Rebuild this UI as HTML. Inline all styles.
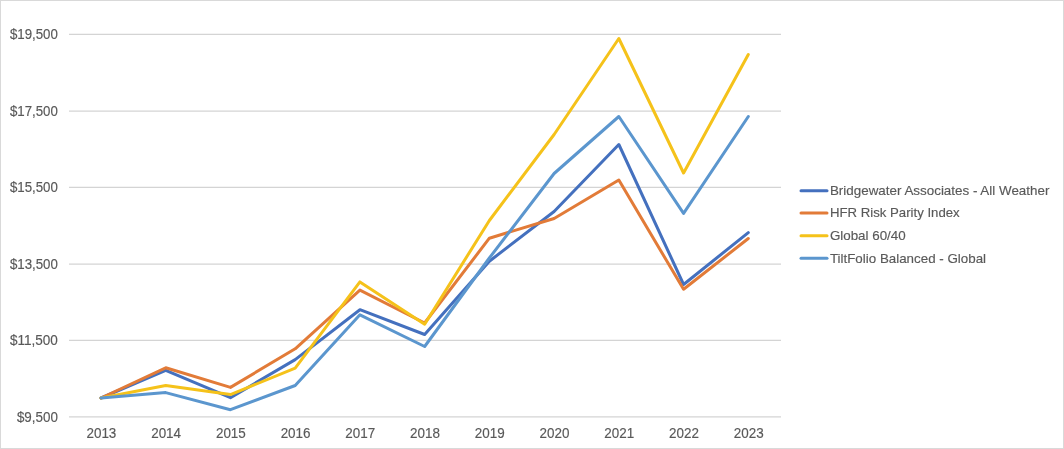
<!DOCTYPE html>
<html><head><meta charset="utf-8"><style>
html,body{margin:0;padding:0;background:#fff;}
body{width:1064px;height:449px;overflow:hidden;position:relative;}
svg{position:absolute;left:0;top:0;will-change:transform;}
text{font-family:"Liberation Sans",sans-serif;font-size:14px;fill:#595959;stroke:#595959;stroke-width:0.15px;}
</style></head><body>
<svg width="1064" height="449" viewBox="0 0 1064 449">
<rect x="0.5" y="0.5" width="1063" height="448" fill="#fff" stroke="#d9d9d9" stroke-width="1"/>

<line x1="69.0" y1="34.30" x2="781.0" y2="34.30" stroke="#d4d4d4" stroke-width="1.25"/>
<line x1="69.0" y1="111.00" x2="781.0" y2="111.00" stroke="#d4d4d4" stroke-width="1.25"/>
<line x1="69.0" y1="187.40" x2="781.0" y2="187.40" stroke="#d4d4d4" stroke-width="1.25"/>
<line x1="69.0" y1="264.20" x2="781.0" y2="264.20" stroke="#d4d4d4" stroke-width="1.25"/>
<line x1="69.0" y1="340.30" x2="781.0" y2="340.30" stroke="#d4d4d4" stroke-width="1.25"/>
<line x1="69.0" y1="416.90" x2="781.0" y2="416.90" stroke="#d4d4d4" stroke-width="1.25"/>
<text x="57.9" y="39.20" text-anchor="end" textLength="48.0" lengthAdjust="spacingAndGlyphs">$19,500</text>
<text x="57.9" y="115.90" text-anchor="end" textLength="48.0" lengthAdjust="spacingAndGlyphs">$17,500</text>
<text x="57.9" y="192.30" text-anchor="end" textLength="48.0" lengthAdjust="spacingAndGlyphs">$15,500</text>
<text x="57.9" y="269.10" text-anchor="end" textLength="48.0" lengthAdjust="spacingAndGlyphs">$13,500</text>
<text x="57.9" y="345.20" text-anchor="end" textLength="48.0" lengthAdjust="spacingAndGlyphs">$11,500</text>
<text x="57.9" y="421.80" text-anchor="end" textLength="41.0" lengthAdjust="spacingAndGlyphs">$9,500</text>
<text x="101.40" y="437.9" text-anchor="middle" textLength="29.9" lengthAdjust="spacingAndGlyphs">2013</text>
<text x="166.13" y="437.9" text-anchor="middle" textLength="29.9" lengthAdjust="spacingAndGlyphs">2014</text>
<text x="230.86" y="437.9" text-anchor="middle" textLength="29.9" lengthAdjust="spacingAndGlyphs">2015</text>
<text x="295.59" y="437.9" text-anchor="middle" textLength="29.9" lengthAdjust="spacingAndGlyphs">2016</text>
<text x="360.32" y="437.9" text-anchor="middle" textLength="29.9" lengthAdjust="spacingAndGlyphs">2017</text>
<text x="425.05" y="437.9" text-anchor="middle" textLength="29.9" lengthAdjust="spacingAndGlyphs">2018</text>
<text x="489.78" y="437.9" text-anchor="middle" textLength="29.9" lengthAdjust="spacingAndGlyphs">2019</text>
<text x="554.51" y="437.9" text-anchor="middle" textLength="29.9" lengthAdjust="spacingAndGlyphs">2020</text>
<text x="619.24" y="437.9" text-anchor="middle" textLength="29.9" lengthAdjust="spacingAndGlyphs">2021</text>
<text x="683.97" y="437.9" text-anchor="middle" textLength="29.9" lengthAdjust="spacingAndGlyphs">2022</text>
<text x="748.70" y="437.9" text-anchor="middle" textLength="29.9" lengthAdjust="spacingAndGlyphs">2023</text>
<polyline points="101.00,398.00 165.73,370.40 230.46,397.70 295.19,359.60 359.92,309.70 424.65,334.50 489.38,261.20 554.11,211.50 618.84,144.50 683.57,284.50 748.30,232.60" fill="none" stroke="#4470BE" stroke-width="3" stroke-linejoin="round" stroke-linecap="round"/>
<polyline points="101.00,398.00 165.73,367.80 230.46,387.40 295.19,348.80 359.92,290.10 424.65,323.00 489.38,238.20 554.11,218.50 618.84,180.00 683.57,289.30 748.30,238.50" fill="none" stroke="#E27B38" stroke-width="3" stroke-linejoin="round" stroke-linecap="round"/>
<polyline points="101.00,398.00 165.73,385.50 230.46,394.60 295.19,368.20 359.92,281.90 424.65,324.20 489.38,220.50 554.11,134.50 618.84,38.50 683.57,173.00 748.30,54.50" fill="none" stroke="#F5C21A" stroke-width="3" stroke-linejoin="round" stroke-linecap="round"/>
<polyline points="101.00,398.00 165.73,392.60 230.46,409.70 295.19,385.50 359.92,314.80 424.65,346.50 489.38,258.00 554.11,173.50 618.84,116.50 683.57,213.40 748.30,116.50" fill="none" stroke="#5B96CE" stroke-width="3" stroke-linejoin="round" stroke-linecap="round"/>
<line x1="801" y1="190.8" x2="827" y2="190.8" stroke="#4470BE" stroke-width="3" stroke-linecap="round"/>
<text x="829.9" y="195.10" style="font-size:13.5px" textLength="219.5" lengthAdjust="spacingAndGlyphs">Bridgewater Associates - All Weather</text>
<line x1="801" y1="213.1" x2="827" y2="213.1" stroke="#E27B38" stroke-width="3" stroke-linecap="round"/>
<text x="829.9" y="217.40" style="font-size:13.5px" textLength="129.8" lengthAdjust="spacingAndGlyphs">HFR Risk Parity Index</text>
<line x1="801" y1="235.7" x2="827" y2="235.7" stroke="#F5C21A" stroke-width="3" stroke-linecap="round"/>
<text x="829.9" y="240.00" style="font-size:13.5px" textLength="75.8" lengthAdjust="spacingAndGlyphs">Global 60/40</text>
<line x1="801" y1="258.3" x2="827" y2="258.3" stroke="#5B96CE" stroke-width="3" stroke-linecap="round"/>
<text x="829.9" y="262.60" style="font-size:13.5px" textLength="156.2" lengthAdjust="spacingAndGlyphs">TiltFolio Balanced - Global</text>
</svg></body></html>
